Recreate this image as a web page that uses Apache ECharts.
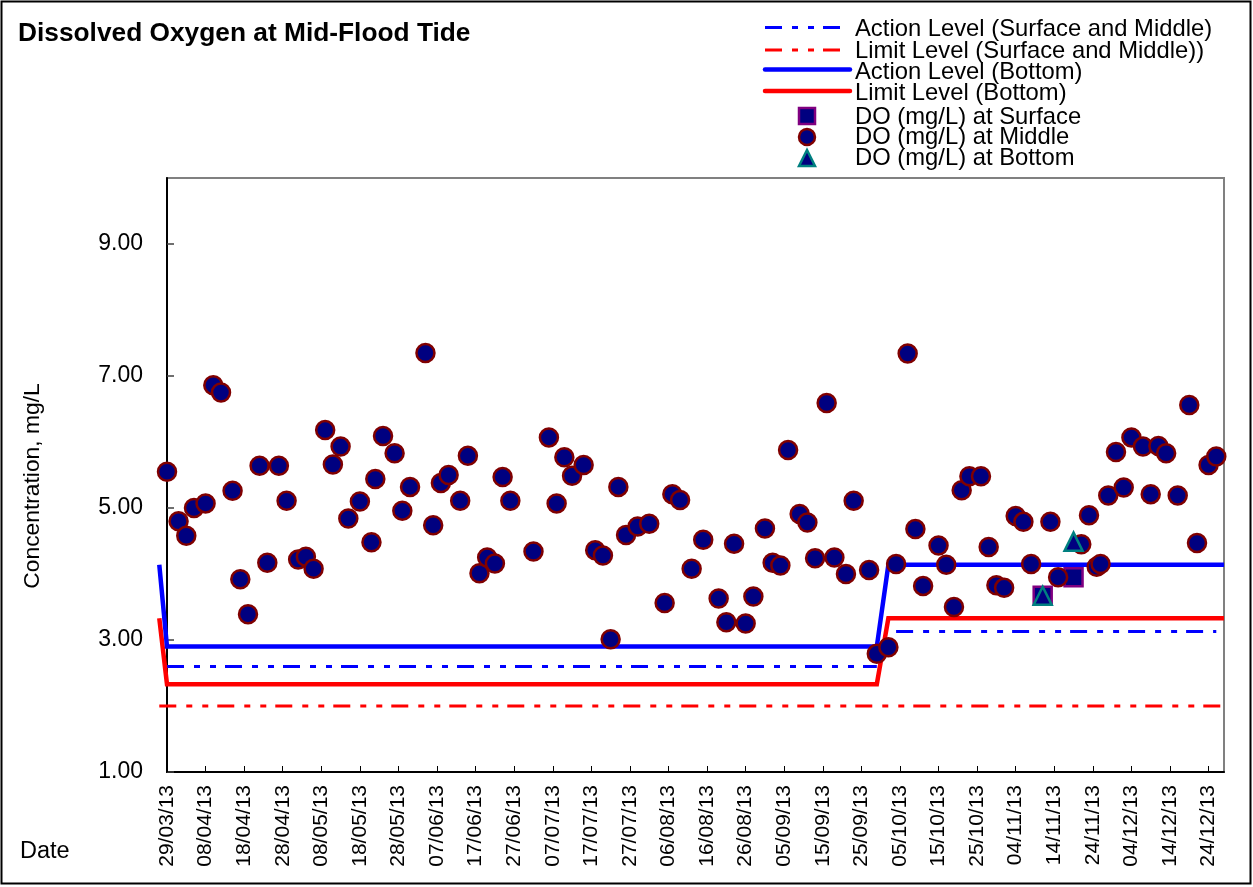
<!DOCTYPE html>
<html>
<head>
<meta charset="utf-8">
<title>Dissolved Oxygen at Mid-Flood Tide</title>
<script src="https://cdn.jsdelivr.net/npm/echarts@6/dist/echarts.min.js"></script>
<style>
  html, body { margin: 0; padding: 0; background: #ffffff; }
  #chart { width: 1253px; height: 887px; }
</style>
</head>
<body>
<div id="chart"></div>
<script>
// ---- Data -------------------------------------------------------------
const axisStart = '29/03/13';
const axisEnd = '28/12/13';

const xTickLabels = [
  '29/03/13', '08/04/13', '18/04/13', '28/04/13', '08/05/13', '18/05/13', '28/05/13',
  '07/06/13', '17/06/13', '27/06/13', '07/07/13', '17/07/13', '27/07/13', '06/08/13',
  '16/08/13', '26/08/13', '05/09/13', '15/09/13', '25/09/13', '05/10/13', '15/10/13',
  '25/10/13', '04/11/13', '14/11/13', '24/11/13', '04/12/13', '14/12/13', '24/12/13'
];

const middleDates = [
  '29/03/13', '01/04/13', '03/04/13', '05/04/13', '08/04/13', '10/04/13', '12/04/13', '15/04/13',
  '17/04/13', '19/04/13', '22/04/13', '24/04/13', '27/04/13', '29/04/13', '02/05/13', '04/05/13',
  '06/05/13', '09/05/13', '11/05/13', '13/05/13', '15/05/13', '18/05/13', '21/05/13', '22/05/13',
  '24/05/13', '27/05/13', '29/05/13', '31/05/13', '04/06/13', '06/06/13', '08/06/13', '10/06/13',
  '13/06/13', '15/06/13', '18/06/13', '20/06/13', '22/06/13', '24/06/13', '26/06/13', '02/07/13',
  '06/07/13', '08/07/13', '10/07/13', '12/07/13', '15/07/13', '18/07/13', '20/07/13', '22/07/13',
  '24/07/13', '26/07/13', '29/07/13', '01/08/13', '05/08/13', '07/08/13', '09/08/13', '12/08/13',
  '15/08/13', '19/08/13', '21/08/13', '23/08/13', '26/08/13', '28/08/13', '31/08/13', '02/09/13',
  '04/09/13', '06/09/13', '09/09/13', '11/09/13', '13/09/13', '16/09/13', '18/09/13', '21/09/13',
  '23/09/13', '27/09/13', '29/09/13', '02/10/13', '04/10/13', '07/10/13', '09/10/13', '11/10/13',
  '15/10/13', '17/10/13', '19/10/13', '21/10/13', '23/10/13', '26/10/13', '28/10/13', '30/10/13',
  '01/11/13', '04/11/13', '06/11/13', '08/11/13', '13/11/13', '15/11/13', '21/11/13', '23/11/13',
  '25/11/13', '26/11/13', '28/11/13', '30/11/13', '02/12/13', '04/12/13', '07/12/13', '09/12/13',
  '11/12/13', '13/12/13', '16/12/13', '19/12/13', '21/12/13', '24/12/13', '26/12/13'
];
const middleValues = [
  5.55, 4.80, 4.58, 5.00, 5.07, 6.86, 6.75, 5.26,
  3.92, 3.39, 5.64, 4.17, 5.64, 5.11, 4.22, 4.26,
  4.08, 6.18, 5.66, 5.93, 4.84, 5.10, 4.48, 5.44,
  6.09, 5.83, 4.96, 5.32, 7.35, 4.74, 5.38, 5.50,
  5.11, 5.79, 4.01, 4.25, 4.16, 5.47, 5.11, 4.34,
  6.07, 5.07, 5.77, 5.49, 5.65, 4.36, 4.28, 3.01,
  5.32, 4.59, 4.72, 4.76, 3.56, 5.21, 5.12, 4.08,
  4.52, 3.63, 3.27, 4.46, 3.25, 3.66, 4.69, 4.17,
  4.13, 5.88, 4.91, 4.78, 4.24, 6.59, 4.25, 4.00,
  5.11, 4.06, 2.79, 2.89, 4.15, 7.34, 4.68, 3.82,
  4.43, 4.14, 3.50, 5.27, 5.48, 5.48, 4.41, 3.83,
  3.79, 4.88, 4.79, 4.15, 4.79, 3.95, 4.45, 4.89,
  4.11, 4.15, 5.19, 5.85, 5.31, 6.07, 5.93, 5.21,
  5.94, 5.83, 5.19, 6.56, 4.47, 5.65, 5.78
];

const surfaceDates = ['11/11/13', '19/11/13'];
const surfaceValues = [3.67, 3.95];

const bottomDates = ['11/11/13', '19/11/13'];
const bottomValues = [3.67, 4.49];

// Criteria lines (null splits a line into separate runs)
const actionSMDates = ['29/03/13', '29/09/13', '01/10/13', '04/10/13', '26/12/13'];
const actionSMValues = [2.6, 2.6, null, 3.13, 3.13];

const limitSMDates = ['27/03/13', '28/12/13'];
const limitSMValues = [2.0, 2.0];

const actionBottomDates = ['27/03/13', '29/03/13', '29/09/13', '02/10/13', '28/12/13'];
const actionBottomValues = [4.14, 2.9, 2.9, 4.14, 4.14];

const limitBottomDates = ['27/03/13', '29/03/13', '29/09/13', '02/10/13', '28/12/13'];
const limitBottomValues = [3.33, 2.33, 2.33, 3.33, 3.33];

// ---- Helpers ----------------------------------------------------------
const FONT = '"Liberation Sans", Arial, Helvetica, sans-serif';
const ORIGIN = Date.UTC(2013, 2, 29);
function dayOf(s) {
  const [d, m, y] = s.split('/').map(Number);
  return Math.round((Date.UTC(2000 + y, m - 1, d) - ORIGIN) / 86400000);
}
function pairs(dates, values) {
  return dates.map((d, i) => [dayOf(d), values[i] == null ? '-' : values[i]]);
}

const DASH_DOT_DOT = [17, 10, 6, 10, 6, 9];

const styles = {
  actionSM: { name: 'Action Level (Surface and Middle)', color: '#0000ff', width: 3, dash: DASH_DOT_DOT },
  limitSM: { name: 'Limit Level (Surface and Middle))', color: '#ff0000', width: 3, dash: DASH_DOT_DOT },
  actionB: { name: 'Action Level (Bottom)', color: '#0000ff', width: 4.5, dash: null },
  limitB: { name: 'Limit Level (Bottom)', color: '#ff0000', width: 4.5, dash: null },
  surface: { name: 'DO (mg/L) at Surface', symbol: 'rect', fill: '#000080', stroke: '#800080' },
  middle: { name: 'DO (mg/L) at Middle', symbol: 'circle', fill: '#000080', stroke: '#800000' },
  bottom: { name: 'DO (mg/L) at Bottom', symbol: 'triangle', fill: '#000080', stroke: '#008080' }
};

// Criteria lines are drawn as polylines through the axis scales; they start
// slightly before the first axis date, so they are not clipped to the grid.
function criteriaSeries(st, dates, values) {
  return {
    type: 'custom', name: st.name, data: pairs(dates, values),
    clip: false, silent: true, z: 2,
    encode: { x: 0, y: 1 },
    renderItem: function (params, api) {
      if (params.dataIndexInside !== 0) return null;
      const runs = [];
      let cur = [];
      for (let i = 0; i < params.dataInsideLength; i++) {
        const v = api.value(1, i);
        if (v == null || isNaN(v)) {
          if (cur.length > 1) runs.push(cur);
          cur = [];
          continue;
        }
        cur.push(api.coord([api.value(0, i), v]));
      }
      if (cur.length > 1) runs.push(cur);
      return {
        type: 'group',
        children: runs.map(pts => ({
          type: 'polyline',
          shape: { points: pts },
          style: {
            fill: null, stroke: st.color, lineWidth: st.width,
            lineDash: st.dash, lineJoin: 'miter', lineCap: 'butt'
          }
        }))
      };
    }
  };
}
function scatterSeries(st, dates, values) {
  return {
    type: 'scatter', name: st.name, data: pairs(dates, values),
    symbol: st.symbol, symbolSize: 18, z: 3,
    itemStyle: { color: st.fill, borderColor: st.stroke, borderWidth: 2.5, opacity: 1 },
    emphasis: { disabled: true }
  };
}

// ---- Legend drawn as graphics (line swatches + markers) ---------------
const legendRows = [
  { st: styles.actionSM, y: 27.5, kind: 'line', x2: 843 },
  { st: styles.limitSM, y: 50, kind: 'line', x2: 843 },
  { st: styles.actionB, y: 69.5, kind: 'line', x2: 850 },
  { st: styles.limitB, y: 91, kind: 'line', x2: 850 },
  { st: styles.surface, y: 116, kind: 'mark' },
  { st: styles.middle, y: 137, kind: 'mark' },
  { st: styles.bottom, y: 158, kind: 'mark' }
];
const textY = [29.5, 51, 72.5, 93, 117, 137.5, 158.5];
const legendGraphics = [];
legendRows.forEach((r, i) => {
  const st = r.st;
  if (r.kind === 'line') {
    legendGraphics.push({
      type: 'line', silent: true,
      shape: { x1: 765, y1: r.y, x2: r.x2, y2: r.y },
      style: {
        stroke: st.color, lineWidth: st.width,
        lineDash: st.dash,
        lineCap: st.dash ? 'butt' : 'round'
      }
    });
  } else {
    const cx = 807, cy = r.y, h = 8;
    const sty = { fill: st.fill, stroke: st.stroke, lineWidth: 2.5 };
    if (st.symbol === 'rect') {
      legendGraphics.push({ type: 'rect', silent: true, shape: { x: cx - h, y: cy - h, width: 2 * h, height: 2 * h }, style: sty });
    } else if (st.symbol === 'circle') {
      legendGraphics.push({ type: 'circle', silent: true, shape: { cx: cx, cy: cy, r: h }, style: sty });
    } else {
      legendGraphics.push({ type: 'polygon', silent: true, shape: { points: [[cx, cy - h], [cx - h, cy + h], [cx + h, cy + h]] }, style: sty });
    }
  }
  legendGraphics.push({
    type: 'text', silent: true, x: 855, y: textY[i],
    style: { text: st.name, fill: '#000', fontSize: 23.8, fontFamily: FONT, align: 'left', verticalAlign: 'middle' }
  });
});

// ---- Chart ------------------------------------------------------------
const chart = echarts.init(document.getElementById('chart'), null, { renderer: 'canvas' });

chart.setOption({
  animation: false,
  backgroundColor: '#ffffff',
  title: {
    text: 'Dissolved Oxygen at Mid-Flood Tide',
    left: 18, top: 21, padding: 0,
    textStyle: { fontFamily: FONT, fontSize: 26.3, fontWeight: 'bold', color: '#000' }
  },
  grid: {
    left: 167, top: 178, right: 29, bottom: 115,
    show: true, borderColor: '#808080', borderWidth: 2, backgroundColor: 'transparent',
    containLabel: false
  },
  xAxis: {
    type: 'value',
    min: dayOf(axisStart), max: dayOf(axisEnd), interval: 10,
    axisLine: { show: true, onZero: false, lineStyle: { color: '#000', width: 2 } },
    axisTick: { show: true, inside: true, length: 6, lineStyle: { color: '#000', width: 1 } },
    axisLabel: {
      rotate: 90, margin: 13, color: '#000', fontFamily: FONT, fontSize: 21,
      showMaxLabel: false, hideOverlap: false,
      formatter: v => (v % 10 === 0 && xTickLabels[v / 10]) ? xTickLabels[v / 10] : ''
    },
    splitLine: { show: false }
  },
  yAxis: {
    type: 'value',
    min: 1, max: 10, interval: 2,
    axisLine: { show: true, onZero: false, lineStyle: { color: '#000', width: 2 } },
    axisTick: { show: true, inside: true, length: 7, lineStyle: { color: '#404040', width: 1.5 } },
    axisLabel: {
      margin: 24, color: '#000', fontFamily: FONT, fontSize: 23,
      showMaxLabel: false,
      formatter: v => (v > 9.5 ? '' : v.toFixed(2))
    },
    splitLine: { show: false }
  },
  series: [
    criteriaSeries(styles.limitSM, limitSMDates, limitSMValues),
    criteriaSeries(styles.actionSM, actionSMDates, actionSMValues),
    criteriaSeries(styles.limitB, limitBottomDates, limitBottomValues),
    criteriaSeries(styles.actionB, actionBottomDates, actionBottomValues),
    scatterSeries(styles.surface, surfaceDates, surfaceValues),
    scatterSeries(styles.middle, middleDates, middleValues),
    scatterSeries(styles.bottom, bottomDates, bottomValues)
  ],
  graphic: [
    {
      type: 'rect', silent: true, z: 100,
      shape: { x: 1.5, y: 1.5, width: 1249, height: 882 },
      style: { fill: null, stroke: '#000', lineWidth: 2 }
    },
    {
      type: 'text', silent: true, x: 33, y: 486, rotation: Math.PI / 2,
      style: { text: 'Concentration, mg/L', fill: '#000', fontSize: 22.8, fontFamily: FONT, align: 'center', verticalAlign: 'middle' }
    },
    {
      type: 'text', silent: true, x: 20, y: 852,
      style: { text: 'Date', fill: '#000', fontSize: 23.5, fontFamily: FONT, align: 'left', verticalAlign: 'middle' }
    }
  ].concat(legendGraphics)
});
</script>
</body>
</html>
